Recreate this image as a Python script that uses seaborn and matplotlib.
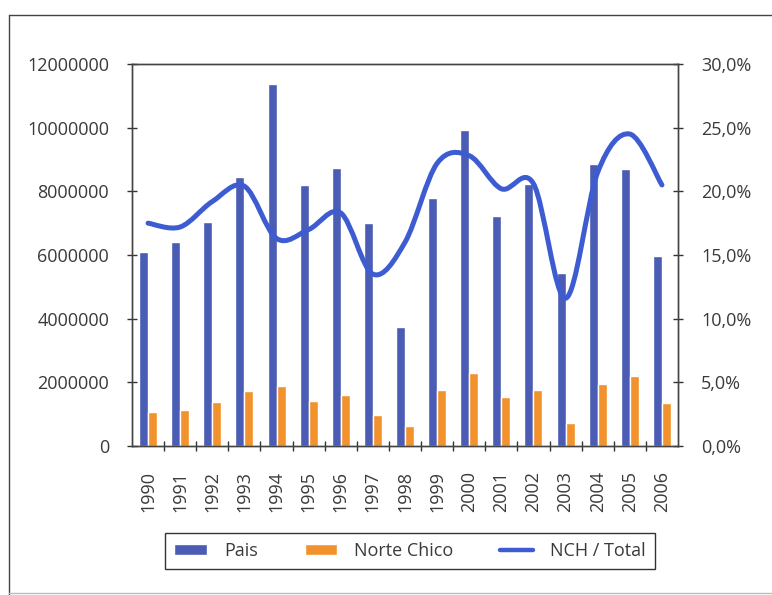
import numpy as np
import pandas as pd
import matplotlib
matplotlib.use("Agg")
import matplotlib.pyplot as plt
from matplotlib.path import Path
from matplotlib.patches import PathPatch
from matplotlib.lines import Line2D
from matplotlib.ticker import FuncFormatter, FixedLocator
import seaborn as sb

years = ["1990", "1991", "1992", "1993", "1994", "1995", "1996", "1997", "1998",
         "1999", "2000", "2001", "2002", "2003", "2004", "2005", "2006"]
pais = [6080000, 6420000, 7050000, 8460000, 11370000, 8210000, 8740000, 7020000, 3730000,
        7800000, 9930000, 7240000, 8240000, 5420000, 8870000, 8710000, 5980000]
norte_chico = [1070000, 1130000, 1380000, 1720000, 1880000, 1410000, 1600000, 970000, 630000,
               1750000, 2290000, 1540000, 1750000, 720000, 1940000, 2190000, 1350000]
nch_total = [0.175, 0.172, 0.192, 0.204, 0.163, 0.170, 0.183, 0.135, 0.160,
             0.222, 0.228, 0.202, 0.206, 0.116, 0.215, 0.245, 0.205]

BLUE = "#4a5cb3"
ORANGE = "#f2922c"
LINE = "#3d5cd2"
TXT = "#3a3a3a"

sb.set_style("white")
plt.rcParams["font.family"] = ["Open Sans", "DejaVu Sans"]

D = pd.DataFrame({"year": years * 2,
                  "value": pais + norte_chico,
                  "serie": ["Pais"] * len(years) + ["Norte Chico"] * len(years)})

fig = plt.figure(figsize=(7.72, 5.95), dpi=100)
ax = fig.add_axes([132 / 772, 1 - 446 / 595, 546 / 772, 382 / 595])

sb.barplot(data=D, x="year", y="value", hue="serie", palette=[BLUE, ORANGE],
           width=0.56, gap=0, saturation=1, ax=ax, legend=True)
bar_handles, bar_labels = ax.get_legend_handles_labels()
ax.get_legend().remove()

ax.set_ylim(0, 12000000)
ax.set_xlim(-0.5, len(years) - 0.5)
ax.set_yticks(range(0, 12000001, 2000000))
ax.yaxis.set_major_formatter(FuncFormatter(lambda v, p: f"{int(v)}"))
ax.set_xlabel("")
ax.set_ylabel("")
ax.tick_params(axis="y", direction="inout", length=7, width=1, color="#333333",
               labelsize=13, pad=13, left=True, labelcolor=TXT)
ax.tick_params(axis="x", which="major", length=0, labelsize=13, labelrotation=90,
               pad=18, labelcolor=TXT)
ax.xaxis.set_minor_locator(FixedLocator(np.arange(0.5, len(years) - 1, 1)))
ax.tick_params(axis="x", which="minor", direction="inout", length=7, width=1,
               color="#333333", bottom=True)
for s in ax.spines.values():
    s.set_color("#444444")
    s.set_linewidth(1)

# smoothed ratio line (Catmull-Rom -> cubic Bezier)
ax2 = ax.twinx()
ax2.set_ylim(0, 0.30)
ax2.set_yticks(np.arange(0, 0.301, 0.05))
ax2.yaxis.set_major_formatter(FuncFormatter(lambda v, p: f"{v * 100:.1f}%".replace(".", ",")))
ax2.tick_params(axis="y", direction="inout", length=7, width=1, color="#333333",
                labelsize=13, pad=13, right=True, labelcolor=TXT)
for s in ax2.spines.values():
    s.set_color("#444444")
    s.set_linewidth(1)

P = np.column_stack([np.arange(len(years)), nch_total])
Pext = np.vstack([P[0], P, P[-1]])
verts = [P[0]]
codes = [Path.MOVETO]
for i in range(len(P) - 1):
    p0, p1, p2, p3 = Pext[i], Pext[i + 1], Pext[i + 2], Pext[i + 3]
    verts += [p1 + (p2 - p0) / 6, p2 - (p3 - p1) / 6, p2]
    codes += [Path.CURVE4] * 3
ax2.add_patch(PathPatch(Path(verts, codes), facecolor="none", edgecolor=LINE,
                        lw=3.6, capstyle="round", joinstyle="round"))

handles = bar_handles + [Line2D([0], [0], color=LINE, lw=3.2)]
labels = ["Pais", "Norte Chico", "NCH / Total"]
fig.legend(handles, labels, ncol=3, loc="center", bbox_to_anchor=(410 / 772, 1 - 551 / 595),
           frameon=True, fancybox=False, edgecolor="#333333", fontsize=13,
           handlelength=1.8, handleheight=0.5, handletextpad=0.95, columnspacing=2.6,
           borderpad=0.5, labelcolor=TXT, framealpha=1).get_frame().set_linewidth(1)

# outer frame of the figure
fig.add_artist(Line2D([9 / 772, 1], [1 - 15 / 595, 1 - 15 / 595], transform=fig.transFigure,
                      color="#444444", lw=1))
fig.add_artist(Line2D([9 / 772, 9 / 772], [1 - 15 / 595, 0], transform=fig.transFigure,
                      color="#444444", lw=1))
fig.add_artist(Line2D([9 / 772, 1], [2 / 595, 2 / 595], transform=fig.transFigure,
                      color="#bbbbbb", lw=1))

fig.savefig("out.png", dpi=100)
plt.close()
